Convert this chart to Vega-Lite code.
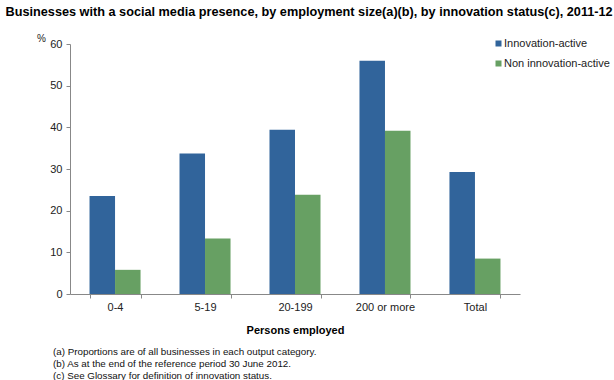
{
  "$schema": "https://vega.github.io/schema/vega-lite/v6.json",
  "background": "white",
  "padding": {"left": 5, "top": 6, "right": 5, "bottom": 0},
  "title": {
    "text": "Businesses with a social media presence, by employment size(a)(b), by innovation status(c), 2011-12",
    "anchor": "start",
    "frame": "bounds",
    "font": "Liberation Sans",
    "fontSize": 12.7,
    "fontWeight": "bold",
    "color": "#000000",
    "offset": 14,
    "dx": -31
  },
  "config": {"view": {"stroke": null}, "font": "Liberation Sans"},
  "vconcat": [
    {
      "width": 450,
      "height": 250,
      "title": {
        "text": [
          "(a) Proportions are of all businesses in each output category.",
          "(b) As at the end of the reference period 30 June 2012.",
          "(c) See Glossary for definition of innovation status."
        ],
        "orient": "bottom",
        "anchor": "start",
        "frame": "group",
        "font": "Liberation Sans",
        "fontSize": 9.8,
        "fontWeight": "normal",
        "lineHeight": 11.8,
        "offset": 12,
        "dx": -17,
        "color": "#111111"
      },
      "data": {
        "values": [
          {"size": "0-4", "status": "Innovation-active", "pct": 23.5},
          {"size": "0-4", "status": "Non innovation-active", "pct": 5.8},
          {"size": "5-19", "status": "Innovation-active", "pct": 33.7},
          {"size": "5-19", "status": "Non innovation-active", "pct": 13.3},
          {"size": "20-199", "status": "Innovation-active", "pct": 39.4},
          {"size": "20-199", "status": "Non innovation-active", "pct": 23.8},
          {"size": "200 or more", "status": "Innovation-active", "pct": 56.0},
          {"size": "200 or more", "status": "Non innovation-active", "pct": 39.2},
          {"size": "Total", "status": "Innovation-active", "pct": 29.3},
          {"size": "Total", "status": "Non innovation-active", "pct": 8.5}
        ]
      },
      "mark": {"type": "bar"},
      "encoding": {
        "x": {
          "field": "size",
          "type": "nominal",
          "sort": ["0-4", "5-19", "20-199", "200 or more", "Total"],
          "scale": {"paddingInner": 0.433, "paddingOuter": 0.217},
          "axis": {
            "title": "Persons employed",
            "labelAngle": 0,
            "tickBand": "extent",
            "tickSize": 4,
            "domainColor": "#888888",
            "tickColor": "#888888",
            "labelFontSize": 11,
            "labelColor": "#222222",
            "labelPadding": 3,
            "titleFontSize": 11,
            "titleFontWeight": "bold",
            "titleColor": "#000000",
            "titlePadding": 12
          }
        },
        "xOffset": {
          "field": "status",
          "type": "nominal",
          "sort": ["Innovation-active", "Non innovation-active"]
        },
        "y": {
          "field": "pct",
          "type": "quantitative",
          "scale": {"domain": [0, 60]},
          "axis": {
            "title": "%",
            "titleAngle": 0,
            "titleX": -29,
            "titleY": -6,
            "titleAlign": "center",
            "titleBaseline": "middle",
            "titleFontSize": 10,
            "titleFontWeight": "normal",
            "titleColor": "#222222",
            "values": [0, 10, 20, 30, 40, 50, 60],
            "grid": false,
            "tickSize": 4,
            "domainColor": "#888888",
            "tickColor": "#888888",
            "labelFontSize": 11,
            "labelColor": "#222222",
            "labelPadding": 4
          }
        },
        "color": {
          "field": "status",
          "type": "nominal",
          "scale": {
            "domain": ["Innovation-active", "Non innovation-active"],
            "range": ["#31649B", "#67A063"]
          },
          "legend": {
            "title": null,
            "orient": "none",
            "legendX": 423,
            "legendY": -6,
            "symbolType": "square",
            "symbolSize": 36,
            "symbolStrokeWidth": 0,
            "labelFontSize": 11,
            "labelColor": "#222222",
            "rowPadding": 8,
            "labelOffset": 0
          }
        }
      }
    }
  ]
}
